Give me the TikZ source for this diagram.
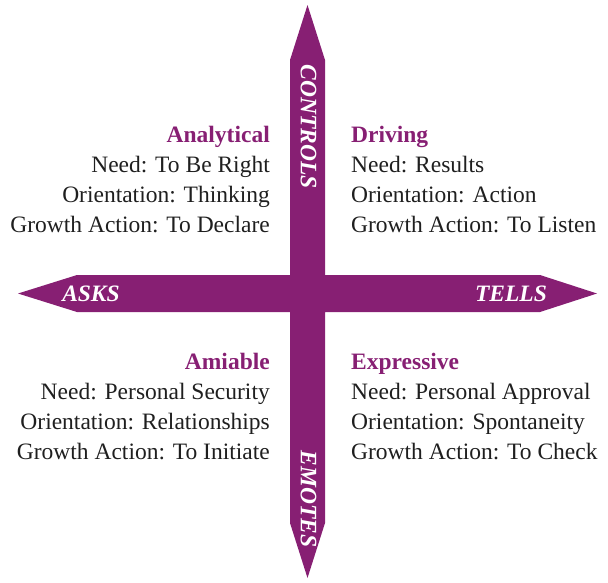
\documentclass[tikz,border=0pt]{standalone}
\usepackage{fontspec}
\setmainfont{Liberation Serif}
\definecolor{plum}{RGB}{135,31,115}
\begin{document}
\begin{tikzpicture}[x=1pt,y=-1pt,
  axislabel/.style={text=white,font=\fontsize{23.5}{28}\selectfont\bfseries\itshape,inner sep=0pt},
  quadtext/.style={font=\fontsize{23.5}{29.7}\selectfont,inner sep=0pt,text=black!88}]
\useasboundingbox (0,0) rectangle (608,582);
% the cross of four pointed bars
\fill[plum] (307.5,5) -- (325,60) -- (325,275) -- (540,275) -- (597,293.5)
  -- (540,312) -- (325,312) -- (325,523) -- (307.5,578) -- (290,523)
  -- (290,312) -- (77,312) -- (18,293.5) -- (77,275) -- (290,275)
  -- (290,60) -- cycle;
% axis labels
\node[axislabel,rotate=-90] (controls) at (308.5,127) {CONTROLS};
\node[axislabel,rotate=-90] (emotes) at (308.5,499) {EMOTES};
\node[axislabel,anchor=base] (asks) at (91,301) {ASKS};
\node[axislabel,anchor=base] (tells) at (511,301) {TELLS};
% quadrant descriptions (anchored at the baseline of their last line)
\node[quadtext,align=right,anchor=base east] (analytical) at (270,232)
  {{\color{plum}\bfseries Analytical}\\Need: To Be Right\\Orientation: Thinking\\Growth Action: To Declare};
\node[quadtext,align=left,anchor=base west] (driving) at (351,232)
  {{\color{plum}\bfseries Driving}\\Need: Results\\Orientation: Action\\Growth Action: To Listen};
\node[quadtext,align=right,anchor=base east] (amiable) at (270,459)
  {{\color{plum}\bfseries Amiable}\\Need: Personal Security\\Orientation: Relationships\\Growth Action: To Initiate};
\node[quadtext,align=left,anchor=base west] (expressive) at (351,459)
  {{\color{plum}\bfseries Expressive}\\Need: Personal Approval\\Orientation: Spontaneity\\Growth Action: To Check};
\end{tikzpicture}
\end{document}
